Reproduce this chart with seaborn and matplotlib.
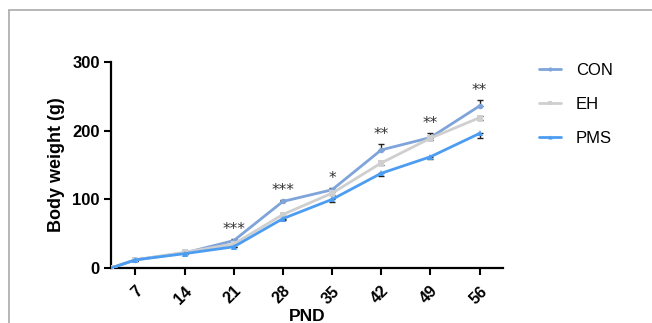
import numpy as np
import pandas as pd
import matplotlib
matplotlib.use('Agg')
import matplotlib.pyplot as plt
from matplotlib.lines import Line2D
import seaborn as sns

# ── Data ─────────────────────────────────────────────────────────────────────
pnd = [3.5, 7, 14, 21, 28, 35, 42, 49, 56]
tick_days = [7, 14, 21, 28, 35, 42, 49, 56]

con_mean = [0, 12, 22, 40, 97, 114, 172, 190, 236]
eh_mean  = [0, 12, 23, 35, 78, 109, 153, 189, 219]
pms_mean = [0, 12, 21, 31, 72, 100, 138, 162, 196]

con_sem = [0, 1, 1, 2, 2, 3, 8, 7, 9]
eh_sem  = [0, 1, 1, 1, 2, 2, 3, 2, 3]
pms_sem = [0, 1, 1, 1, 2, 4, 4, 3, 7]

stars = ['', '', '', '***', '***', '*', '**', '**', '**']

groups = ['CON', 'EH', 'PMS']
colors = {'CON': '#7fa4da', 'EH': '#cfcfcf', 'PMS': '#4c9df2'}
markers = {'CON': 'o', 'EH': 's', 'PMS': '^'}

df = pd.DataFrame({
    'PND': pnd * 3,
    'weight': con_mean + eh_mean + pms_mean,
    'sem': con_sem + eh_sem + pms_sem,
    'group': sum([[g] * len(pnd) for g in groups], []),
})

# ── Plot ─────────────────────────────────────────────────────────────────────
sns.set_style('ticks')
plt.rcParams['font.family'] = ['Liberation Sans', 'DejaVu Sans']
plt.rcParams['text.color'] = 'black'
plt.rcParams['axes.labelcolor'] = 'black'
plt.rcParams['xtick.color'] = 'black'
plt.rcParams['ytick.color'] = 'black'

fig = plt.figure(figsize=(6.52, 3.23), dpi=100)
ax = fig.add_axes([0.170, 0.170, 0.601, 0.638])

# error bars: CON above, PMS below, EH both
for g in groups:
    sub = df[df['group'] == g]
    e = sub['sem'].values
    z = np.zeros_like(e)
    if g == 'CON':
        yerr = [z, e]
    elif g == 'PMS':
        yerr = [e, z]
    else:
        yerr = [e, e]
    ax.errorbar(sub['PND'].iloc[1:], sub['weight'].iloc[1:],
                yerr=[yerr[0][1:], yerr[1][1:]], fmt='none',
                ecolor='#222222', elinewidth=1.0, capsize=2.5, capthick=1.0, zorder=1)

sns.lineplot(data=df, x='PND', y='weight', hue='group', style='group',
             palette=colors, markers=markers, dashes=False, ax=ax,
             linewidth=2, markersize=4, markeredgewidth=0, zorder=3)

# significance marks
for x, y, e, s in zip(pnd, con_mean, con_sem, stars):
    if s:
        ax.text(x, y + e + 3, s, ha='center', va='bottom',
                fontsize=11, color='#333333', family='DejaVu Sans')

ax.set_xlim(3.5, 59.3)
ax.set_ylim(0, 300)
ax.set_xticks(tick_days)
ax.set_xticklabels([str(d) for d in tick_days], rotation=45, ha='right',
                   rotation_mode='anchor', fontweight='bold', fontsize=11.5)
ax.set_yticks([0, 100, 200, 300])
ax.set_yticklabels(['0', '100', '200', '300'], fontweight='bold', fontsize=12)
ax.tick_params(axis='both', length=5, width=1.5, color='black', pad=3)
ax.tick_params(axis='x', pad=6)
for sp in ['left', 'bottom']:
    ax.spines[sp].set_linewidth(1.6)
    ax.spines[sp].set_color('black')
sns.despine(ax=ax)

ax.set_ylabel('Body weight (g)', fontweight='bold', fontsize=13, labelpad=5)
ax.set_xlabel('PND', fontweight='bold', fontsize=12.5, labelpad=2)

handles = [Line2D([0], [0], color=colors[g], lw=2, marker=markers[g],
                  markersize=3, markeredgewidth=0) for g in groups]
ax.legend(handles, groups, loc='upper left', bbox_to_anchor=(1.055, 1.07),
          frameon=False, fontsize=12, handlelength=1.3, handletextpad=0.9,
          labelspacing=1.15, labelcolor='black')

# partial grey frame (top and left edges)
fig.add_artist(Line2D([9 / 652, 1.0], [1 - 10 / 323, 1 - 10 / 323],
                      transform=fig.transFigure, color='#aaaaaa', lw=1.2))
fig.add_artist(Line2D([9 / 652, 9 / 652], [0, 1 - 10 / 323],
                      transform=fig.transFigure, color='#aaaaaa', lw=1.2))

fig.savefig('out.png', dpi=100)
